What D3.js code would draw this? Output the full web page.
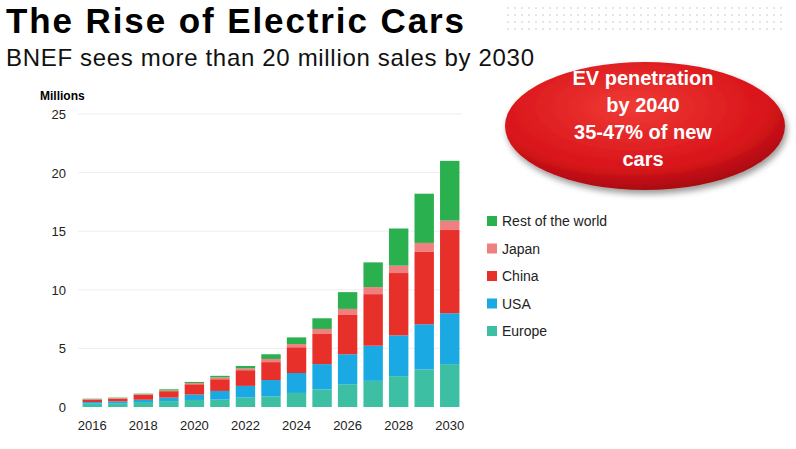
<!DOCTYPE html>
<html>
<head>
<meta charset='utf-8'>
<script src='https://d3js.org/d3.v7.min.js'></script>
<style>
body { margin: 0; background: #fff; font-family: 'Liberation Sans', Arial, sans-serif; }
</style>
</head>
<body>
<script>
'use strict'

const years = d3.range(2016, 2031)
const europe = [0.29, 0.32, 0.42, 0.5, 0.6, 0.63, 0.8, 0.9, 1.2, 1.5, 1.94, 2.23, 2.63, 3.2, 3.66]
const usa    = [0.14, 0.16, 0.2, 0.3, 0.46, 0.74, 1.0, 1.4, 1.7, 2.16, 2.56, 3.0, 3.48, 3.86, 4.34]
const china  = [0.2, 0.24, 0.42, 0.55, 0.88, 1.0, 1.34, 1.53, 2.2, 2.57, 3.4, 4.4, 5.32, 6.17, 7.1]
const japan  = [0.04, 0.04, 0.05, 0.06, 0.1, 0.15, 0.15, 0.27, 0.27, 0.43, 0.47, 0.6, 0.63, 0.77, 0.8]
const rest   = [0.04, 0.04, 0.05, 0.1, 0.1, 0.14, 0.21, 0.4, 0.57, 0.91, 1.43, 2.11, 3.17, 4.2, 5.1]
const seriesNames = ['Europe', 'USA', 'China', 'Japan', 'Rest of the world']
const seriesColors = ['#3dbfa3', '#1aa9e3', '#e8302a', '#f08080', '#2bb04f']
const yTicks = [0, 5, 10, 15, 20, 25]
const xTickYears = [2016, 2018, 2020, 2022, 2024, 2026, 2028, 2030]

const W = 796, H = 449
const svg = d3.select('body').append('svg').attr('width', W).attr('height', H)

// title
svg.append('text').attr('x', 6).attr('y', 33).attr('font-size', 35).attr('font-weight', 'bold')
	.attr('fill', '#000').attr('textLength', 458).text('The Rise of Electric Cars')
svg.append('text').attr('x', 6).attr('y', 66).attr('font-size', 24).attr('fill', '#111')
	.attr('textLength', 528).text('BNEF sees more than 20 million sales by 2030')
svg.append('text').attr('x', 40).attr('y', 100).attr('font-size', 12).attr('font-weight', 'bold')
	.text('Millions')

// faint dotted pattern, top right
const dots = svg.append('g').attr('fill', '#ddd')
for (let r = 0; r < 4; r++)
	for (let c = 0; c < 40; c++)
		dots.append('circle').attr('cx', 508 + c * 7).attr('cy', 8 + r * 7).attr('r', 1)

const data = years.map((y, i) => ({
	year: y, Europe: europe[i], USA: usa[i], China: china[i], Japan: japan[i], 'Rest of the world': rest[i]
}))
const stacked = d3.stack().keys(seriesNames)(data)

const x = d3.scaleBand().domain(years).range([80, 462]).paddingInner(0.24).paddingOuter(0.1)
const y = d3.scaleLinear().domain([0, 25]).range([407, 114])

svg.append('g').selectAll('line').data(yTicks.slice(1)).join('line')
	.attr('x1', 78).attr('x2', 462).attr('y1', d => y(d)).attr('y2', d => y(d))
	.attr('stroke', '#eee').attr('stroke-width', 1)

svg.append('g').attr('font-size', 13).attr('fill', '#222').selectAll('text').data(yTicks).join('text')
	.attr('x', 66).attr('y', d => y(d) + 5).attr('text-anchor', 'end').text(d => d)

svg.append('g').attr('font-size', 13).attr('fill', '#222').selectAll('text').data(xTickYears).join('text')
	.attr('x', d => x(d) + x.bandwidth() / 2).attr('y', 430).attr('text-anchor', 'middle').text(d => d)

svg.append('g').selectAll('g').data(stacked).join('g')
	.attr('fill', (d, i) => seriesColors[i])
	.selectAll('rect').data(d => d).join('rect')
	.attr('x', d => x(d.data.year)).attr('width', x.bandwidth())
	.attr('y', d => y(d[1])).attr('height', d => y(d[0]) - y(d[1]))

// legend
const leg = svg.append('g').attr('font-size', 14).attr('fill', '#222')
seriesNames.slice().reverse().forEach((n, i) => {
	const ly = 221 + i * 27.5
	leg.append('rect').attr('x', 487).attr('y', ly - 5).attr('width', 10).attr('height', 10)
		.attr('fill', seriesColors[seriesNames.length - 1 - i])
	leg.append('text').attr('x', 502).attr('y', ly + 5).text(n)
})

// callout ellipse
const defs = svg.append('defs')
const grad = defs.append('radialGradient').attr('id', 'eg').attr('cx', '45%').attr('cy', '35%').attr('r', '65%')
grad.append('stop').attr('offset', '0%').attr('stop-color', '#f03a35')
grad.append('stop').attr('offset', '75%').attr('stop-color', '#d8141a')
grad.append('stop').attr('offset', '100%').attr('stop-color', '#a80c10')
const f = defs.append('filter').attr('id', 'sh').attr('x', '-20%').attr('y', '-20%').attr('width', '140%').attr('height', '150%')
f.append('feDropShadow').attr('dx', 2).attr('dy', 4).attr('stdDeviation', 3).attr('flood-opacity', 0.4)
svg.append('ellipse').attr('cx', 645).attr('cy', 126).attr('rx', 140).attr('ry', 64)
	.attr('fill', 'url(#eg)').attr('filter', 'url(#sh)')
const lines = ['EV penetration', 'by 2040', '35-47% of new', 'cars']
svg.append('g').attr('font-size', 20).attr('font-weight', 'bold').attr('fill', '#fff')
	.attr('text-anchor', 'middle').selectAll('text').data(lines).join('text')
	.attr('x', 643).attr('y', (d, i) => 85 + i * 27).text(d => d)
</script>
</body>
</html>
